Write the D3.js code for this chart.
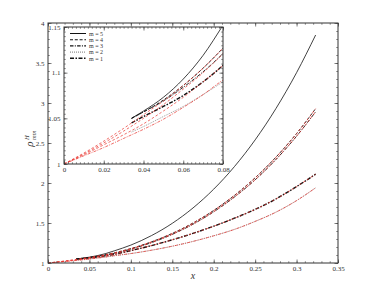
<!DOCTYPE html>
<html>
<head>
<meta charset="utf-8">
<script src="https://cdn.jsdelivr.net/npm/d3@7"></script>
<style>
body{margin:0;background:#fff}
svg{display:block}
text{font-family:"Liberation Serif","Times New Roman",serif;fill:#333}
</style>
</head>
<body>
<svg id="chart" width="374" height="297"></svg>
<script>
// values
let xBlack=[0.034,0.04,0.05,0.06,0.07,0.08,0.1,0.125,0.15,0.175,0.2,0.225,0.25,0.275,0.3,0.323];
let m5=[1.050,1.058,1.073,1.093,1.119,1.152,1.224,1.343,1.496,1.688,1.923,2.205,2.539,2.929,3.379,3.85];
let m4=[1.050,1.057,1.070,1.086,1.105,1.127,1.180,1.265,1.370,1.500,1.657,1.845,2.065,2.322,2.618,2.93];
let m3=[1.050,1.057,1.069,1.084,1.101,1.121,1.174,1.255,1.358,1.485,1.640,1.825,2.040,2.293,2.585,2.89];
let m1=[1.045,1.052,1.063,1.075,1.090,1.108,1.155,1.218,1.290,1.370,1.460,1.560,1.670,1.800,1.955,2.11];
let m2=[1.035,1.041,1.052,1.063,1.076,1.090,1.118,1.160,1.210,1.270,1.340,1.420,1.520,1.635,1.780,1.94];

let xRed=[0,0.01,0.02,0.03,0.04,0.05,0.06,0.07,0.08,0.1,0.125,0.15,0.175,0.2,0.225,0.25,0.275,0.3,0.323];
let r5=[1,1.012,1.026,1.040,1.055,1.071,1.090,1.113,1.141,1.215,1.335,1.490,1.683,1.920,2.200,2.535,2.925,3.375,3.845];
let r4=[1,1.012,1.025,1.039,1.054,1.069,1.086,1.105,1.127,1.180,1.265,1.370,1.500,1.657,1.845,2.065,2.322,2.618,2.93];
let r3=[1,1.011,1.023,1.036,1.050,1.065,1.082,1.100,1.121,1.174,1.255,1.358,1.485,1.640,1.825,2.040,2.293,2.585,2.89];
let r1=[1,1.010,1.021,1.032,1.044,1.058,1.073,1.090,1.108,1.155,1.218,1.290,1.370,1.460,1.560,1.670,1.800,1.955,2.11];
let r2=[1,1.009,1.018,1.028,1.038,1.049,1.062,1.076,1.092,1.118,1.160,1.210,1.270,1.340,1.420,1.520,1.635,1.780,1.94];

let legendLabels=["m = 5","m = 4","m = 3","m = 2","m = 1"];
let xTicks=[0,0.05,0.1,0.15,0.2,0.25,0.3,0.35];
let yTicks=[1,1.5,2,2.5,3,3.5,4];
let xTicksIn=[0,0.02,0.04,0.06,0.08];
let yTicksIn=[1,1.05,1.1,1.15];

let svg=d3.select("#chart");

let styles={
  m5:{dash:null,w:0.8,c:"#111"},
  m4:{dash:"3,1.8",w:0.9,c:"#111"},
  m3:{dash:"3.5,1.3,1,1.3",w:0.9,c:"#111"},
  m2:{dash:"1,1",w:0.8,c:"#888"},
  m1:{dash:"4,1.5,1.5,1.5",w:1.4,c:"#111"}
};

let blackSeries=[["m5",m5],["m4",m4],["m3",m3],["m1",m1],["m2",m2]];
let redSeries=[["m5",r5,"2.5,2"],["m4",r4,"2.5,2"],["m3",r3,"2.5,2"],["m1",r1,"2.5,2"],["m2",r2,"3,1.2,1,1.2"]];

function axes(g,x,y,xMaj,xMin,yMaj,yMin){
  let [x0,x1]=x.range(),[y0,y1]=y.range();
  let fmt=d=>String(d);
  let ax=[
    [d3.axisBottom(x),`translate(0,${y0})`,xMaj,xMin,true],
    [d3.axisTop(x),`translate(0,${y1})`,xMaj,xMin,false],
    [d3.axisLeft(y),`translate(${x0},0)`,yMaj,yMin,true],
    [d3.axisRight(y),`translate(${x1},0)`,yMaj,yMin,false]
  ];
  ax.forEach(a=>{
    let gm=g.append("g").attr("transform",a[1])
      .call(a[0].tickValues(a[2]).tickSize(-3.5).tickPadding(3.5).tickFormat(a[4]?fmt:""));
    gm.select(".domain").remove();
    gm.selectAll("line").attr("stroke","#444").attr("stroke-width",0.7);
    gm.selectAll("text").style("font-size","7px").attr("fill","#333");
    let gn=g.append("g").attr("transform",a[1])
      .call(a[0].tickValues(a[3]).tickSize(-1.8).tickFormat(""));
    gn.select(".domain").remove();
    gn.selectAll("line").attr("stroke","#444").attr("stroke-width",0.6);
  });
  g.append("rect").attr("x",x0).attr("y",y1).attr("width",x1-x0).attr("height",y0-y1)
    .attr("fill","none").attr("stroke","#333").attr("stroke-width",1);
}

function curves(g,x,y,clipId){
  let line=xs=>d3.line().x((d,i)=>x(xs[i])).y(d=>y(d));
  let cg=g.append("g").attr("clip-path",`url(#${clipId})`);
  blackSeries.forEach(([k,v])=>{
    let s=styles[k];
    cg.append("path").attr("d",line(xBlack).curve(d3.curveMonotoneX)(v))
      .attr("fill","none").attr("stroke",s.c).attr("stroke-width",s.w)
      .attr("stroke-dasharray",s.dash);
  });
  redSeries.forEach(([k,v,dash])=>{
    cg.append("path").attr("d",line(xRed).curve(d3.curveMonotoneX)(v))
      .attr("fill","none").attr("stroke","#e8322b").attr("stroke-width",0.75)
      .attr("stroke-dasharray",dash).attr("opacity",k=="m5"?0.0:0.95);
  });
}

let defs=svg.append("defs");
function clip(id,x,y){
  defs.append("clipPath").attr("id",id).append("rect")
    .attr("x",x.range()[0]).attr("y",y.range()[1])
    .attr("width",x.range()[1]-x.range()[0]).attr("height",y.range()[0]-y.range()[1]);
}

// main plot
let x=d3.scaleLinear().domain([0,0.35]).range([48,338]);
let y=d3.scaleLinear().domain([1,4]).range([263,23]);
clip("clipMain",x,y);
let main=svg.append("g");
curves(main,x,y,"clipMain");
axes(main,x,y,xTicks,d3.range(0,0.3501,0.01),yTicks,d3.range(1,4.001,0.1));

svg.append("text").attr("x",193).attr("y",279).attr("text-anchor","middle")
  .style("font-size","10px").style("font-style","italic").text("x");
let yl=svg.append("g").attr("transform","translate(33,140) rotate(-90)");
yl.append("text").attr("x",-4).attr("y",0).attr("text-anchor","middle")
  .style("font-size","11px").style("font-style","italic").text("ρ");
yl.append("text").attr("x",0).attr("y",-4.5).style("font-size","6.5px").style("font-style","italic").text("H");
yl.append("text").attr("x",0).attr("y",3).style("font-size","6.5px").style("font-style","italic").text("mm");

// inset
let xi=d3.scaleLinear().domain([0,0.08]).range([64,223]);
let yi=d3.scaleLinear().domain([1,1.15]).range([164,27]);
clip("clipIn",xi,yi);
let inset=svg.append("g");
inset.append("rect").attr("x",xi.range()[0]).attr("y",yi.range()[1])
  .attr("width",xi.range()[1]-xi.range()[0]).attr("height",yi.range()[0]-yi.range()[1]).attr("fill","#fff");
curves(inset,xi,yi,"clipIn");
axes(inset,xi,yi,xTicksIn,d3.range(0,0.0801,0.002),yTicksIn,d3.range(1,1.1501,0.005));

// legend
let legendKeys=["m5","m4","m3","m2","m1"];
let lg=inset.append("g");
legendKeys.forEach((k,i)=>{
  let s=styles[k],ly=33.5+i*6.2;
  lg.append("line").attr("x1",70).attr("x2",86).attr("y1",ly).attr("y2",ly)
    .attr("stroke",k=="m2"?"#777":s.c).attr("stroke-width",s.w+0.2).attr("stroke-dasharray",s.dash);
  lg.append("text").attr("x",89).attr("y",ly+2.2).style("font-size","6px").text(legendLabels[i]);
});
</script>
</body>
</html>
